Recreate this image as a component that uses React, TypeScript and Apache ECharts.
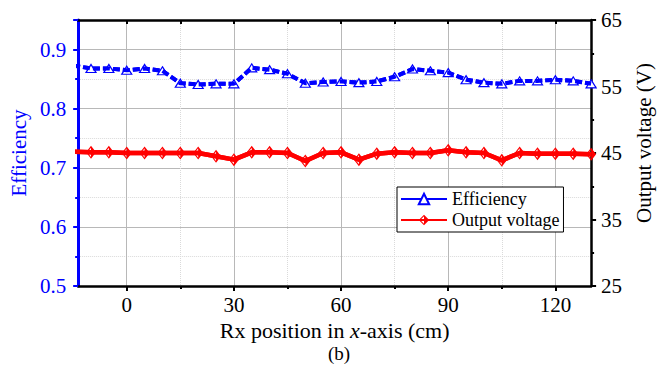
import React, { useEffect, useRef } from "react";
import * as echarts from "echarts";

const xPositions = [-15, -10, -5, 0, 5, 10, 15, 20, 25, 30, 35, 40, 45, 50, 55, 60, 65, 70, 75, 80, 85, 90, 95, 100, 105, 110, 115, 120, 125, 130];
const efficiency = [0.873, 0.868, 0.868, 0.865, 0.868, 0.864, 0.843, 0.841, 0.842, 0.842, 0.869, 0.866, 0.859, 0.843, 0.845, 0.846, 0.844, 0.846, 0.854, 0.867, 0.864, 0.861, 0.849, 0.844, 0.842, 0.847, 0.847, 0.849, 0.847, 0.842];
const outputVoltage = [45.2, 45.1, 45.1, 45.0, 45.0, 45.0, 45.0, 45.0, 44.5, 44.0, 45.1, 45.1, 45.0, 43.8, 45.0, 45.1, 44.0, 44.9, 45.1, 45.0, 45.0, 45.4, 45.1, 45.0, 43.9, 45.0, 44.9, 44.9, 44.9, 44.8];
const xMajorTicks = [0, 30, 60, 90, 120];
const xMinorTicks = [15, 45, 75, 105];
const xTopTicks = [0, 15, 30, 45, 60, 75, 90, 105, 120];

const FONT = "Times New Roman, Liberation Serif, DejaVu Serif, serif";
const BLUE = "#0000ff";
const RED = "#ff0000";
const X_MIN = -13.6;
const X_MAX = 130;
const DIAMOND = "path://M5,0 L10,5 L5,10 Z M5,0 L0,5 L5,10 L5,8.6 L1.4,5 L5,1.4 Z";

export default function App() {
  const ref = useRef<HTMLDivElement>(null);
  useEffect(() => {
    document.body.style.margin = "0";
    if (!ref.current) return;
    const chart = echarts.init(ref.current, null, { renderer: "svg" });
    const effData = xPositions.map((x, i) => [x, efficiency[i]]);
    const vData = xPositions.map((x, i) => [x, outputVoltage[i]]);
    const effLine = { color: BLUE, width: 4, type: [7, 3] as any };
    const vLine = { color: RED, width: 4.5 };
    chart.setOption({
      animation: false,
      backgroundColor: "#ffffff",
      textStyle: { fontFamily: FONT },
      grid: { left: 76, right: 58, top: 20, bottom: 83 },
      legend: {
        orient: "vertical",
        left: 397,
        top: 187,
        data: [
          { name: "Efficiency", lineStyle: { type: "solid" } },
          { name: "Output voltage" },
        ],
        itemWidth: 46,
        itemHeight: 13,
        itemGap: 3,
        padding: [3, 4, 3, 3],
        borderColor: "#000",
        borderWidth: 1,
        borderRadius: 0,
        backgroundColor: "#fff",
        textStyle: { fontSize: 18, fontFamily: FONT, color: "#000" },
      },
      xAxis: [
        {
          type: "value",
          position: "bottom",
          min: X_MIN,
          max: X_MAX,
          axisLine: { show: true, onZero: false, lineStyle: { color: "#000", width: 2.5 } },
          axisTick: { show: true, inside: false, length: 5, customValues: xMajorTicks, lineStyle: { color: "#000", width: 2 } },
          axisLabel: { customValues: xMajorTicks, color: "#000", fontSize: 21, fontFamily: FONT, margin: 8 },
          splitLine: { show: true, lineStyle: { color: "#b8b8b8", width: 1 } },
          name: "Rx position in {i|x}-axis (cm)",
          nameLocation: "middle",
          nameGap: 29,
          nameTextStyle: {
            color: "#000",
            fontSize: 22,
            fontFamily: FONT,
            rich: { i: { fontStyle: "italic", fontSize: 22, fontFamily: FONT, color: "#000" } },
          },
        },
        {
          type: "value",
          position: "bottom",
          min: X_MIN,
          max: X_MAX,
          axisLine: { show: false },
          axisTick: { show: true, inside: false, length: 3, customValues: xMinorTicks, lineStyle: { color: "#000", width: 2 } },
          axisLabel: { show: false },
          splitLine: { show: true, lineStyle: { color: "#dadada", width: 1, type: "dotted" } },
        },
        {
          type: "value",
          position: "top",
          min: X_MIN,
          max: X_MAX,
          axisLine: { show: true, onZero: false, lineStyle: { color: "#000", width: 2.5 } },
          axisTick: { show: true, inside: true, length: 4, customValues: xTopTicks, lineStyle: { color: "#000", width: 2 } },
          axisLabel: { show: false },
          splitLine: { show: false },
        },
      ],
      yAxis: [
        {
          type: "value",
          position: "left",
          min: 0.5,
          max: 0.95,
          interval: 0.1,
          axisLine: { show: true, onZero: false, lineStyle: { color: BLUE, width: 3 } },
          axisTick: { show: true, length: 5, lineStyle: { color: BLUE, width: 2 } },
          minorTick: { show: true, splitNumber: 2, length: 3, lineStyle: { color: BLUE, width: 2 } },
          axisLabel: {
            color: BLUE,
            fontSize: 21,
            fontFamily: FONT,
            margin: 12,
            showMaxLabel: false,
            formatter: (v: number) => v.toFixed(1),
          },
          splitLine: { show: true, lineStyle: { color: "#b8b8b8", width: 1 } },
          minorSplitLine: { show: true, lineStyle: { color: "#dadada", width: 1, type: "dotted" } },
          name: "Efficiency",
          nameLocation: "middle",
          nameGap: 43,
          nameRotate: 90,
          nameTextStyle: { color: BLUE, fontSize: 21, fontFamily: FONT },
        },
        {
          type: "value",
          position: "right",
          min: 25,
          max: 65,
          interval: 10,
          axisLine: { show: true, onZero: false, lineStyle: { color: "#000", width: 2.5 } },
          axisTick: { show: true, length: 5, lineStyle: { color: "#000", width: 2 } },
          minorTick: { show: true, splitNumber: 2, length: 3, lineStyle: { color: "#000", width: 2 } },
          axisLabel: { color: "#000", fontSize: 21, fontFamily: FONT, margin: 10 },
          splitLine: { show: false },
          name: "Output voltage (V)",
          nameLocation: "middle",
          nameGap: 34,
          nameRotate: 90,
          nameTextStyle: { color: "#000", fontSize: 21, fontFamily: FONT, padding: [0, 0, 0, 20] },
        },
      ],
      graphic: [
        {
          type: "text",
          x: 339,
          y: 353,
          style: { text: "(b)", fontSize: 19, fontFamily: FONT, fill: "#000", textAlign: "center", textVerticalAlign: "middle" },
        },
      ],
      series: [
        {
          name: "Efficiency",
          type: "line",
          xAxisIndex: 0,
          yAxisIndex: 0,
          data: effData,
          symbol: "triangle",
          symbolSize: [10, 8],
          itemStyle: { color: "#ffffff", borderColor: BLUE, borderWidth: 1.2 },
          lineStyle: effLine,
          z: 2,
        },
        {
          name: "eff-overlay",
          type: "line",
          xAxisIndex: 0,
          yAxisIndex: 0,
          data: effData,
          symbol: "none",
          lineStyle: effLine,
          silent: true,
          z: 4,
        },
        {
          name: "Output voltage",
          type: "line",
          xAxisIndex: 0,
          yAxisIndex: 1,
          data: vData,
          symbol: DIAMOND,
          symbolSize: [10, 13],
          itemStyle: { color: RED, borderColor: RED, borderWidth: 0 },
          lineStyle: vLine,
          z: 2,
        },
        {
          name: "v-overlay",
          type: "line",
          xAxisIndex: 0,
          yAxisIndex: 1,
          data: vData,
          symbol: "none",
          lineStyle: vLine,
          silent: true,
          z: 4,
        },
      ],
    });
    return () => chart.dispose();
  }, []);
  return <div ref={ref} style={{ width: 662, height: 369 }} />;
}
